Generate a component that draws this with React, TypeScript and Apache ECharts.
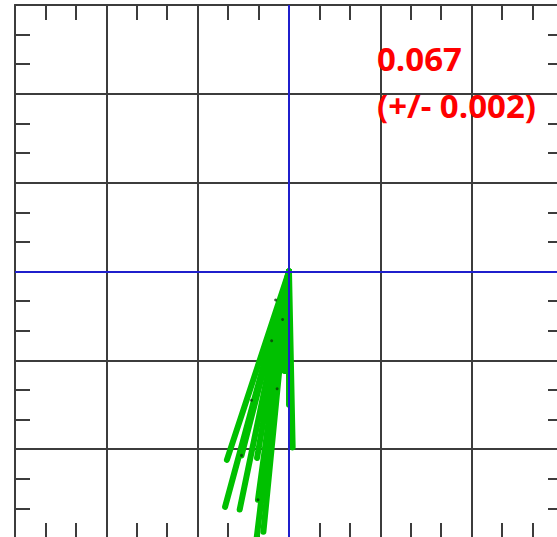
import React, { useEffect, useRef } from "react";
import * as echarts from "echarts";

// Endpoints of the green rays (all start at the origin)
const rayEndX = [-0.68, -0.70, -0.54, -0.52, -0.35, -0.34, -0.36, -0.28, 0.04, 0.0, -0.05];
const rayEndY = [-2.12, -2.65, -2.68, -2.07, -2.10, -2.57, -3.05, -2.93, -1.98, -1.50, -1.12];
// Small dark points along the rays
const dotX = [-0.146, -0.07, -0.19, -0.13, -0.41, -0.34, -0.52];
const dotY = [-0.32, -0.54, -0.78, -1.32, -1.45, -2.57, -2.07];
const textLines = ["0.067", "(+/- 0.002)"];

const GRID_COLOR = "#3c3c3c";

function axisBase(position: string) {
  return {
    type: "value" as const,
    min: -3,
    max: 3,
    interval: 1,
    position,
    axisLine: { show: true, onZero: false, lineStyle: { color: GRID_COLOR, width: 2 } },
    axisTick: { show: true, inside: true, length: 26, lineStyle: { color: GRID_COLOR, width: 2 } },
    minorTick: { show: true, splitNumber: 3, length: 15, lineStyle: { color: GRID_COLOR, width: 2 } },
    axisLabel: { show: false },
  };
}

export default function App() {
  const ref = useRef<HTMLDivElement>(null);
  useEffect(() => {
    if (!ref.current) return;
    const chart = echarts.init(ref.current, null, { renderer: "svg" });
    const rays = rayEndX.map((x, i) => ({
      type: "line",
      data: [
        [0, 0],
        [x, rayEndY[i]],
      ],
      showSymbol: false,
      symbol: "none",
      z: 3,
      lineStyle: { color: "#00c000", width: 6, cap: "round" },
      silent: true,
    }));
    chart.setOption({
      animation: false,
      backgroundColor: "#ffffff",
      grid: {
        left: 15,
        top: 5,
        width: 548,
        height: 533,
        containLabel: false,
        outerBoundsMode: "none",
      },
      xAxis: [
        { ...axisBase("bottom"), splitLine: { show: true, lineStyle: { color: GRID_COLOR, width: 2 } } },
        { ...axisBase("top"), splitLine: { show: false } },
      ],
      yAxis: [
        { ...axisBase("left"), splitLine: { show: true, lineStyle: { color: GRID_COLOR, width: 2 } } },
        { ...axisBase("right"), splitLine: { show: false } },
      ],
      series: [
        {
          type: "line",
          data: [],
          z: 2,
          markLine: {
            silent: true,
            symbol: "none",
            label: { show: false },
            lineStyle: { color: "#1f1fcc", width: 2, type: "solid" },
            data: [{ xAxis: 0 }, { yAxis: 0 }],
          },
        },
        ...rays,
        {
          type: "scatter",
          data: dotX.map((x, i) => [x, dotY[i]]),
          symbolSize: 3,
          itemStyle: { color: "#0a3a0a" },
          z: 4,
          silent: true,
        },
      ],
      graphic: [
        {
          type: "text",
          left: 377,
          top: 42,
          z: 10,
          style: {
            text: textLines[0],
            fill: "#ff0000",
            font: "bold 33px 'Open Sans'",
          },
        },
        {
          type: "text",
          left: 377,
          top: 89,
          z: 10,
          style: {
            text: textLines[1],
            fill: "#ff0000",
            font: "bold 33px 'Open Sans'",
          },
        },
      ],
    });
    return () => chart.dispose();
  }, []);
  return (
    <div
      ref={ref}
      style={{ position: "absolute", left: 0, top: 0, width: 557, height: 537 }}
    />
  );
}
